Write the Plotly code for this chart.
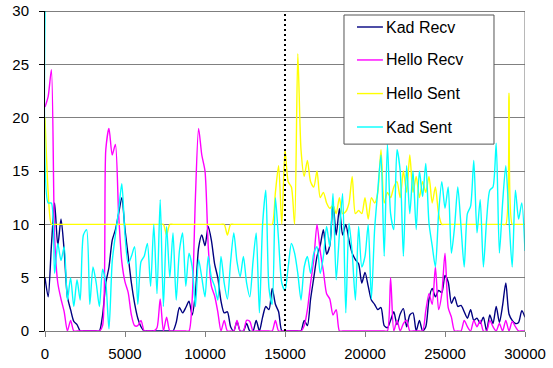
import plotly.graph_objects as go

# Sample times (one reading every 200 time units)
time = list(range(0, 30001, 200))

kad_recv = [
    5, 3.2, 8, 12, 8, 10.5, 7.5, 3.2, 2, 0.9,
    0.6, 0, 0, 0, 0, 0, 0, 0, 1.5, 4.5,
    6, 8.5, 9.5, 11, 12.5, 9.5, 7, 4.5, 2.6, 1.2,
    0.4, 0, 0, 0, 0, 0, 0, 0, 0, 0,
    0, 0.8, 2.2, 1.7, 2.2, 2.8, 1.5, 3.5, 7.8, 9,
    8, 9.8, 8.5, 6.3, 5, 2.8, 1.7, 1.8, 0.4, 0,
    0.9, 0, 0, 0.7, 0, 0, 1, 0, 1.3, 2.3,
    2, 4, 2.5, 1.8, 0, 0, 0, 0, 0, 0,
    0, 1, 0.5, 3, 5, 7, 8, 9.5, 7.2, 8,
    12, 9, 11.5, 9, 10, 8.5, 7.3, 6.7, 6.3, 4.5,
    5.5, 4.2, 2.9, 2.5, 2, 2.2, 0.5, 0.3, 1, 1.8,
    0.6, 1.6, 2.1, 0.4, 1.5, 1.7, 0, 1, 0, 0.4,
    3, 4, 3.2, 3.8, 3.6, 5.2, 4.6, 2.6, 3.2, 2.3,
    2.4, 1.8, 1.2, 2, 1, 1.2, 0.7, 1.3, 0, 1.5,
    0.7, 2.3, 0.8, 2.4, 4.5, 1.6, 1, 0.7, 0.8, 1.9,
    1.3,
]

hello_recv = [
    21, 22, 24.5, 8.8, 4.5, 3, 1.8, 0, 1, 0,
    0, 0, 0, 0, 0, 0, 0, 0, 0.5, 17,
    19, 16.5, 17.5, 11, 6.5, 4.6, 3.6, 1.5, 0.5, 0.5,
    1, 0, 0, 0, 0, 0.3, 3, 0, 1.3, 0,
    0, 0, 0, 0, 0, 0, 3, 12.5, 19, 16.5,
    15, 8, 4.2, 3.3, 1.8, 0, 1, 0, 0, 0,
    1, 0, 0, 1, 0.9, 0, 0, 0, 0, 0,
    0, 0, 1, 0, 0, 0, 0, 0, 0, 0,
    0, 0.5, 2, 4.5, 6.7, 10, 7.5, 5.6, 3.5, 3,
    1.5, 2, 0, 0, 0, 0, 0, 0, 0, 0,
    0, 0, 0, 0, 0, 0, 0, 0, 5, 0,
    1, 0, 0.7, 1, 0, 0, 0, 0, 0, 1.9,
    3.5, 2.5, 6, 2, 3.5, 7.3, 2.2, 1.3, 0, 0,
    0, 1, 0.4, 0, 1, 0.4, 1, 0, 0, 1,
    0.4, 0, 0.7, 0, 1, 0, 0.9, 0.4, 0, 0,
    0,
]

hello_sent = [
    20, 13, 10, 10, 10, 10, 10, 10, 10, 10,
    10, 10, 10, 10, 10, 10, 10, 10, 10, 10,
    10, 10, 10, 10, 10, 10, 10, 10, 10, 10,
    10, 10, 10, 10, 10, 10, 10, 10, 9, 10,
    10, 10, 10, 10, 10, 10, 10, 10, 10, 10,
    10, 10, 10, 10, 10, 10, 10, 9, 10, 10,
    10, 10, 10, 10, 10, 10, 10, 10, 10, 10,
    10, 10, 13, 15.5, 10, 17, 14, 13.5, 10, 26,
    17, 14.5, 16, 14, 13.5, 15, 12.5, 13, 12, 11.5,
    11.8, 11, 12.5, 11, 11.2, 12, 14.5, 11, 11.3, 11,
    12.5, 10.5, 12.5, 12, 13, 17, 12, 13, 12.5, 13.5,
    14, 12.5, 15, 13, 16.5, 13, 14.5, 12.5, 14, 13,
    14.5, 12, 13.5, 11, 10, 10, 10, 10, 10, 10,
    10, 10, 10, 10, 10, 10, 10, 10, 10, 10,
    10, 10, 10, 10, 10, 22.3, 10, 10, 10, 10,
    10,
]

kad_sent = [
    30, 12, 12, 5.4, 8.2, 6.6, 7.9, 2.9, 5, 2.3,
    4.8, 2.9, 9, 9.5, 2.5, 6, 4.5, 2.3, 5.8, 4.5,
    0.2, 6.5, 9, 11.3, 13.8, 9, 6.3, 7, 7.9, 2.5,
    6.5, 7, 8.2, 4.2, 10, 3.5, 12.3, 2.3, 9.8, 5,
    9.2, 2.9, 7.5, 9.2, 4.2, 7.3, 6, 2.3, 6.7, 5,
    3.2, 7, 5, 4.2, 2.9, 7, 4.5, 3, 6.5, 9.2,
    6.5, 5.1, 7, 4.5, 3.2, 6.5, 9.2, 1.7, 10, 13.2,
    4, 2.5, 12.5, 8.5, 4.5, 3.8, 6, 8.2, 7.3, 5.4,
    2.9, 6, 7, 5.4, 7.3, 7.9, 5.4, 7, 9.8, 7.9,
    12.9, 4.8, 9.1, 12.9, 1.7, 10.1, 7.3, 2.9, 9.8, 6,
    7, 10, 3, 9.5, 13.2, 16.5, 7, 17.5, 11, 9.5,
    17, 15, 7, 15.5, 11, 15, 9.5, 15, 12.6, 15.7,
    10.1, 8, 6, 11, 14, 11.5, 13.5, 7.3, 9.8, 13.5,
    9.8, 6, 11, 11.7, 16, 9.2, 12.3, 6, 10.4, 13.2,
    13.5, 17.6, 7.3, 12, 15.5, 10.5, 6, 13.2, 10.5, 12,
    7.5,
]

series_names = ["Kad Recv", "Hello Recv", "Hello Sent", "Kad Sent"]
series_colors = ["#000080", "#FF00FF", "#FFFF00", "#00FFFF"]
series_values = [kad_recv, hello_recv, hello_sent, kad_sent]

x_ticks = [0, 5000, 10000, 15000, 20000, 25000, 30000]
x_tick_labels = ["0", "5000", "10000", "15000", "20000", "25000", "30000"]
y_ticks = [0, 5, 10, 15, 20, 25, 30]
marker_time = 15000

FONT = "Liberation Sans, Arial, sans-serif"

fig = go.Figure()
for name, color, vals in zip(series_names, series_colors, series_values):
    assert len(vals) == len(time)
    fig.add_trace(go.Scatter(
        x=time, y=vals, mode="lines", name=name, showlegend=False,
        line=dict(color=color, width=1.4, shape="spline", smoothing=0.7),
    ))

x_max = x_ticks[-1]
y_max = y_ticks[-1]

# Legend box, drawn in paper coordinates of the plot area
box_x0, box_x1 = 0.6229, 0.9354
box_y0, box_y1 = 0.584, 0.9875
row_y = [0.95, 0.847, 0.742, 0.6375]
sample_x0, sample_x1 = 0.650, 0.704
text_x = 0.707

shapes = [
    dict(type="line", xref="x", yref="y", x0=0, x1=x_max, y0=y_max, y1=y_max,
         line=dict(color="black", width=1)),
    dict(type="line", xref="x", yref="y", x0=x_max, x1=x_max, y0=0, y1=y_max,
         line=dict(color="#707070", width=1)),
    dict(type="line", xref="x", yref="y", x0=marker_time, x1=marker_time,
         y0=0, y1=y_max, line=dict(color="black", width=2, dash="2px,3px")),
    dict(type="rect", xref="paper", yref="paper", x0=box_x0, x1=box_x1,
         y0=box_y0, y1=box_y1, fillcolor="white",
         line=dict(color="#555555", width=1), layer="above"),
]
annotations = []
for name, color, ry in zip(series_names, series_colors, row_y):
    shapes.append(dict(type="line", xref="paper", yref="paper",
                       x0=sample_x0, x1=sample_x1, y0=ry, y1=ry,
                       line=dict(color=color, width=1.4), layer="above"))
    annotations.append(dict(xref="paper", yref="paper", x=text_x, y=ry,
                            text=name, showarrow=False, xanchor="left",
                            yanchor="middle",
                            font=dict(family=FONT, size=16, color="black")))

fig.update_layout(
    width=553, height=368,
    margin=dict(l=45, r=28, t=11, b=37, autoexpand=False),
    paper_bgcolor="white", plot_bgcolor="white",
    font=dict(family=FONT, size=15, color="black"),
    showlegend=False,
    xaxis=dict(
        range=[0, x_max], tickvals=x_ticks, ticktext=x_tick_labels,
        ticks="outside", ticklen=5, ticklabelstandoff=4, automargin=False,
        tickcolor="#808080", showgrid=False, zeroline=False,
        showline=True, linecolor="#808080", linewidth=1,
        tickfont=dict(family=FONT, size=15, color="black"),
    ),
    yaxis=dict(
        range=[0, y_max], tickvals=y_ticks, ticks="outside", ticklen=5,
        ticklabelstandoff=7, automargin=False,
        tickcolor="black", showgrid=True, gridcolor="#808080", gridwidth=1,
        zeroline=False, showline=True, linecolor="black", linewidth=1,
        tickfont=dict(family=FONT, size=15, color="black"),
    ),
    shapes=shapes,
    annotations=annotations,
)

fig.write_html("out.html")
